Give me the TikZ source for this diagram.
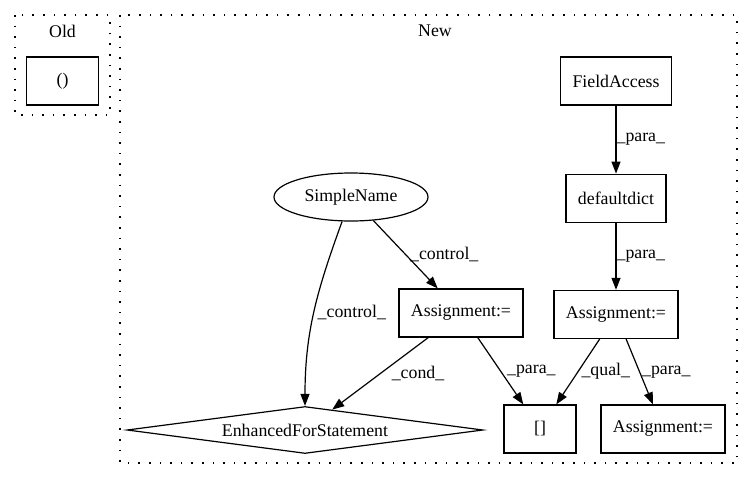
\documentclass[tikz,border=0pt]{standalone}
\usepackage{fontspec}
\setmainfont{Liberation Serif}
\usetikzlibrary{arrows.meta,positioning,shapes}
\newcommand{\gvfont}{\fontsize{17.8}{20}\selectfont}
\tikzset{
    %Define standard arrow tip
    >={Triangle[length=12pt,width=9pt]},
    %Define style for boxes
    stmt/.style={
   	rectangle,
   	draw=black, line width=1.2pt,
   	minimum width=72pt,
   	minimum height=48pt,
   	inner xsep=12pt,
   	font=\gvfont,
   	text centered
   },
   namenode/.style={
   	ellipse,
   	draw=black, line width=1.2pt,
   	minimum width=154pt,
   	minimum height=48pt,
   	font=\gvfont
   },
   loopnode/.style={
   	diamond,
   	draw=black, line width=1.2pt,
   	aspect=7.5,
   	minimum width=356pt,
   	minimum height=47pt,
   	inner sep=0pt,
   	font=\gvfont
   },
   cluster/.style={
   	draw=black, line width=1.3pt,
   	dash pattern=on 1.6pt off 9pt
   },
   lbl/.style={font=\gvfont, inner sep=0pt},
    % Define arrow style
    pil/.style={
           ->,
           line width=1.2pt},
}
\begin{document}
\begin{tikzpicture}[x=1pt,y=-1pt]
\useasboundingbox (0,0) rectangle (752,480);
%clusters
\draw[cluster] (15,15) rectangle (110,115);
\draw[cluster] (120,15) rectangle (737,463);
\node[lbl] (old) at (62.5,31) {Old};
\node[lbl] (new) at (435,31) {New};
%nodes
\node[stmt] (par) at (62.5,81) {()};
\node[stmt] (fa) at (616,81) {FieldAccess};
\node[stmt, below=68pt of fa] (dd) {defaultdict};
\node[stmt, below=67pt of dd] (asg2) {Assignment:=};
\node[namenode] (sn) at (351,197) {SimpleName};
\node[stmt] (asg1) at (461,313) {Assignment:=};
\node[loopnode] (efs) at (305,430) {EnhancedForStatement};
\node[stmt] (idx) at (540,429) {[]};
\node[stmt] (asg3) at (663,429) {Assignment:=};
%edges
\path[pil]
(fa) edge node[lbl,right] {\_para\_} (dd)
(dd) edge node[lbl,right] {\_para\_} (asg2)
(sn) edge node[lbl,right=4pt] {\_control\_} (asg1)
(sn) edge[out=-110,in=90] node[lbl,right=3pt] {\_control\_} (efs)
(asg1) edge node[lbl,right=11pt] {\_cond\_} (efs)
(asg1) edge node[lbl,right=6pt] {\_para\_} (idx)
(asg2) edge node[lbl,right=3pt] {\_qual\_} (idx)
(asg2) edge node[lbl,right=2pt] {\_para\_} (asg3);
\end{tikzpicture}
\end{document}
